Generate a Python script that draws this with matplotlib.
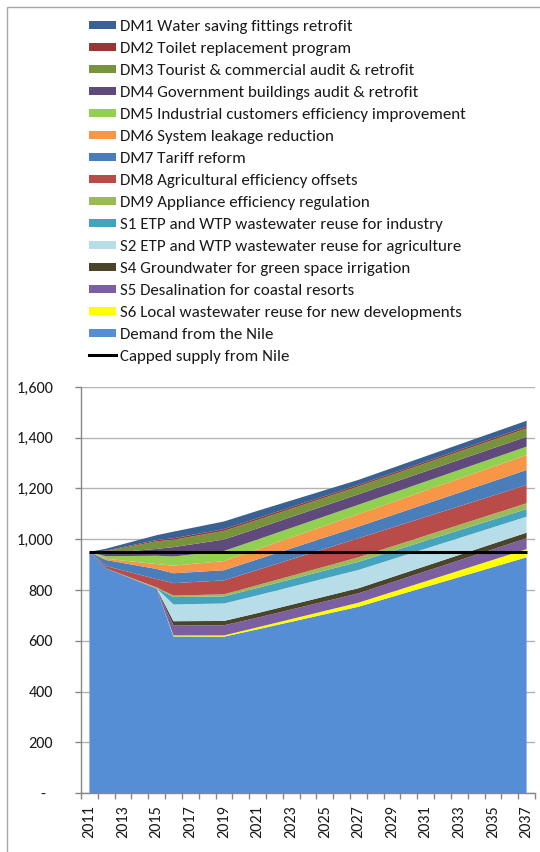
import matplotlib
matplotlib.use("Agg")
import matplotlib.pyplot as plt
from matplotlib import font_manager
from matplotlib.patches import Rectangle
from matplotlib.lines import Line2D
from matplotlib.ticker import FixedLocator, FuncFormatter

# ---- data (million m3 / year) ----
years = [2011, 2012, 2015, 2016, 2019, 2021, 2027, 2037]

demand_nile = [950, 885, 803, 617, 616, 645, 734, 929]
s6_local_reuse = [0, 0, 0, 4, 5, 8, 16, 32]
s5_desalination = [0, 0, 1, 39, 40, 38, 37, 43]
s4_groundwater = [0, 0, 2, 17, 17, 18, 20, 22]
s2_reuse_agri = [0, 0, 1, 66, 69, 70, 72, 63]
s1_reuse_industry = [0, 0, 1, 29, 28, 29, 32, 30]
dm9_appliance = [0, 0, 2, 6, 8, 11, 18, 23]
dm8_agri_offsets = [0, 9, 33, 49, 55, 60, 75, 72]
dm7_tariff = [0, 24, 40, 39, 40, 42, 46, 59]
dm6_leakage = [0, 5, 19, 30, 36, 40, 49, 59]
dm5_industrial = [0, 10, 33, 36, 40, 38, 37, 33]
dm4_government = [0, 12, 27, 37, 45, 44, 41, 39]
dm3_tourist = [0, 8, 30, 29, 34, 33, 31, 33]
dm2_toilet = [0, 2, 5, 6, 7, 7, 6, 7]
dm1_fittings = [0, 8, 19, 26, 30, 29, 20, 23]

capped_supply = [950, 950, 950, 950, 950, 950, 950, 950]

label_years = [2011, 2013, 2015, 2017, 2019, 2021, 2023, 2025, 2027,
               2029, 2031, 2033, 2035, 2037]
y_ticks = [0, 200, 400, 600, 800, 1000, 1200, 1400, 1600]

# stacked bottom -> top
stack = [
    ("Demand from the Nile", demand_nile, "#558ED5"),
    ("S6 Local wastewater reuse for new developments", s6_local_reuse, "#FFFF00"),
    ("S5 Desalination for coastal resorts", s5_desalination, "#7B5FA0"),
    ("S4 Groundwater for green space irrigation", s4_groundwater, "#4A452A"),
    ("S2 ETP and WTP wastewater reuse for agriculture", s2_reuse_agri, "#B7DEE8"),
    ("S1 ETP and WTP wastewater reuse for industry", s1_reuse_industry, "#46A3BE"),
    ("DM9 Appliance efficiency regulation", dm9_appliance, "#9BBB59"),
    ("DM8 Agricultural efficiency offsets", dm8_agri_offsets, "#B94B48"),
    ("DM7 Tariff reform", dm7_tariff, "#4A7EBB"),
    ("DM6 System leakage reduction", dm6_leakage, "#F79646"),
    ("DM5 Industrial customers efficiency improvement", dm5_industrial, "#92D050"),
    ("DM4 Government buildings audit & retrofit", dm4_government, "#604A7B"),
    ("DM3 Tourist & commercial audit & retrofit", dm3_tourist, "#77933C"),
    ("DM2 Toilet replacement program", dm2_toilet, "#953735"),
    ("DM1 Water saving fittings retrofit", dm1_fittings, "#3A6193"),
]

# ---- fonts ----
available = {f.name for f in font_manager.fontManager.ttflist}
family = "Carlito" if "Carlito" in available else "Lato"
plt.rcParams["font.family"] = [family, "DejaVu Sans"]
text_color = "#1A1A1A"
axis_gray = "#868686"
legend_size = 12.2

W, H = 540, 852
fig = plt.figure(figsize=(W / 100, H / 100), dpi=100)


def fx(px):
    return px / W


def fy(py):
    return 1 - py / H


# outer chart frame
fig.patches.append(Rectangle((fx(6.5), -0.02), 1.05, fy(6.5) + 0.02,
                             transform=fig.transFigure, fill=False,
                             edgecolor="#A6A6A6", linewidth=1.0))

ax = fig.add_axes([fx(81), fy(793), fx(535) - fx(81), fy(387) - fy(793)])

ax.stackplot(years, *[s[1] for s in stack], colors=[s[2] for s in stack],
             linewidth=0, zorder=2)
ax.plot(years, capped_supply, color="black", linewidth=2.2, zorder=3,
        solid_capstyle="butt")

ax.set_xlim(2010.5, 2037.5)
ax.set_ylim(0, 1600)

ax.yaxis.set_major_locator(FixedLocator(y_ticks))
ax.yaxis.set_major_formatter(FuncFormatter(
    lambda v, _: "-  " if v == 0 else f"{int(v):,}"))
ax.grid(axis="y", color="#B3B3B3", linewidth=1.0, zorder=0)
ax.set_axisbelow(True)

ax.xaxis.set_major_locator(FixedLocator(label_years))
ax.xaxis.set_minor_locator(FixedLocator([y + 0.5 for y in range(2010, 2038)]))
ax.set_xticklabels([str(y) for y in label_years], rotation=90)

ax.tick_params(axis="x", which="major", length=0, pad=9,
               labelsize=11.6, labelcolor=text_color)
ax.tick_params(axis="x", which="minor", length=4, width=1, color=axis_gray,
               direction="out")
ax.tick_params(axis="y", which="major", length=4, width=1, color=axis_gray,
               direction="out", pad=16, labelsize=11.6, labelcolor=text_color)

for side in ("top", "right"):
    ax.spines[side].set_visible(False)
for side in ("left", "bottom"):
    ax.spines[side].set_color(axis_gray)
    ax.spines[side].set_linewidth(1.0)

# ---- legend (top of the chart) ----
legend_entries = [(s[0], s[2]) for s in reversed(stack[1:])] + [stack[0][0:3:2]]
row0, step = 25.3, 22.0
for i, (name, color) in enumerate(legend_entries):
    yc = row0 + i * step
    fig.patches.append(Rectangle((fx(89), fy(yc + 4)), fx(116) - fx(89),
                                 fy(yc - 4) - fy(yc + 4),
                                 transform=fig.transFigure, color=color,
                                 linewidth=0))
    fig.text(fx(120), fy(yc), name, ha="left", va="center_baseline",
             fontsize=legend_size, color=text_color)
yc = row0 + len(legend_entries) * step
fig.lines.append(Line2D([fx(89), fx(116)], [fy(yc), fy(yc)],
                        transform=fig.transFigure, color="black",
                        linewidth=2.2))
fig.text(fx(120), fy(yc), "Capped supply from Nile", ha="left",
         va="center_baseline", fontsize=legend_size, color=text_color)

fig.savefig("out.png", dpi=100)
